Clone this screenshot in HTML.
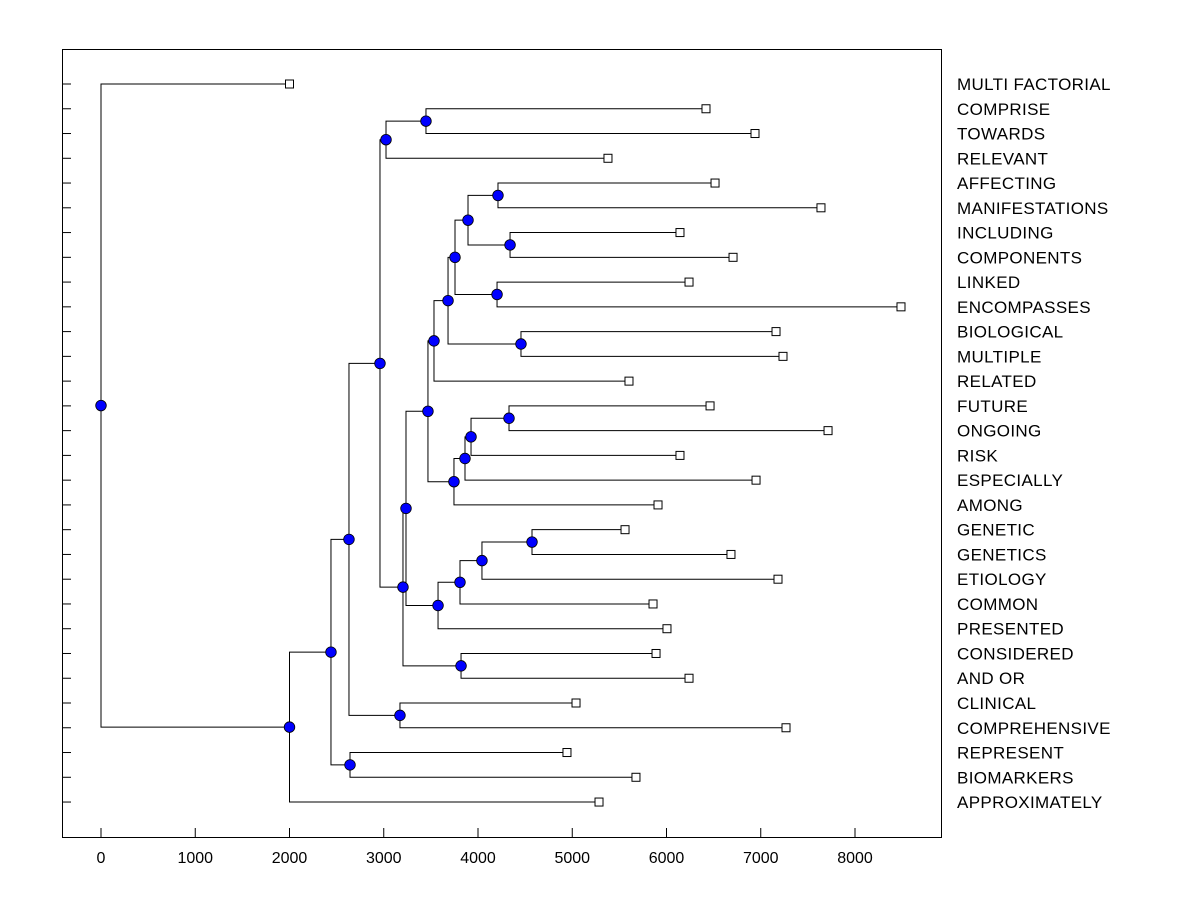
<!DOCTYPE html>
<html><head><meta charset="utf-8"><style>
body{margin:0;background:#fff}
svg text{font-family:"Liberation Sans",Arial,sans-serif;fill:#000}
</style></head><body>
<svg id="c" width="1200" height="900">
<rect x="0" y="0" width="1200" height="900" fill="#fff"/>
<rect x="62.5" y="49.5" width="879" height="788" fill="none" stroke="#000"/>
<g id="g"></g>
</svg>
<script>
const leafLabels=["MULTI FACTORIAL","COMPRISE","TOWARDS","RELEVANT","AFFECTING","MANIFESTATIONS","INCLUDING","COMPONENTS","LINKED","ENCOMPASSES","BIOLOGICAL","MULTIPLE","RELATED","FUTURE","ONGOING","RISK","ESPECIALLY","AMONG","GENETIC","GENETICS","ETIOLOGY","COMMON","PRESENTED","CONSIDERED","AND OR","CLINICAL","COMPREHENSIVE","REPRESENT","BIOMARKERS","APPROXIMATELY"];
const leafValues=[2000,6419,6939,5379,6515,7639,6143,6706,6239,8488,7162,7236,5602,6462,7714,6143,6950,5910,5560,6684,7183,5857,6005,5889,6239,5040,7268,4944,5676,5284];
const nodeChildA=[1,30,4,6,32,8,34,10,36,38,13,40,41,42,39,18,45,46,47,44,23,49,31,25,52,27,54,56,0];
const nodeChildB=[2,3,5,7,33,9,35,11,37,12,14,15,16,17,43,19,20,21,22,48,24,50,51,26,53,28,55,29,57];
const nodeHeights=[3448,3024,4212,4340,3894,4202,3756,4456,3682,3533,4329,3926,3862,3745,3469,4573,4042,3809,3576,3236,3820,3204,2960,3172,2631,2642,2440,2000,0];
const xTicks=[0,1000,2000,3000,4000,5000,6000,7000,8000];

const NS="http://www.w3.org/2000/svg";
const g=document.getElementById('g');
const xs=v=>101+v*0.09425;
const ys=i=>84+i*24.76;
function mk(t,a){const e=document.createElementNS(NS,t);for(const k in a)e.setAttribute(k,a[k]);g.appendChild(e);return e;}
const n=leafLabels.length;
const px=[],py=[];
leafValues.forEach((v,i)=>{px[i]=xs(v);py[i]=ys(i);});
nodeHeights.forEach((h,j)=>{const a=nodeChildA[j],b=nodeChildB[j];px[n+j]=xs(h);py[n+j]=(py[a]+py[b])/2;});
leafLabels.forEach((l,i)=>{
  const t=mk('line',{x1:62,x2:71,y1:ys(i),y2:ys(i),stroke:'#000'});
  
  
  const tx=mk('text',{x:957,y:ys(i)+6,'font-size':17,'letter-spacing':0.35});
  tx.textContent=l;
  
  
});
xTicks.forEach(v=>{
  const t=mk('line',{x1:xs(v),x2:xs(v),y1:828,y2:838,stroke:'#000'});
  
  
  const tx=mk('text',{x:xs(v),y:863,'font-size':16,'text-anchor':'middle'});
  tx.textContent=v;
  
  
});
nodeHeights.forEach((h,j)=>{
  const x=px[n+j],a=nodeChildA[j],b=nodeChildB[j];
  const p=mk('path',{d:`M${px[a]},${py[a]}H${x}V${py[b]}H${px[b]}`,fill:'none',stroke:'#000','stroke-width':1});
  
  
});
leafValues.forEach((v,i)=>{
  const r=mk('rect',{x:px[i]-4,y:py[i]-4,width:8,height:8,fill:'#fff',stroke:'#000'});
  
  
});
nodeHeights.forEach((h,j)=>{
  const c=mk('circle',{cx:px[n+j],cy:py[n+j],r:5.3,fill:'#0000ff',stroke:'#000','stroke-width':0.8});
  
  
});
</script>
</body></html>
